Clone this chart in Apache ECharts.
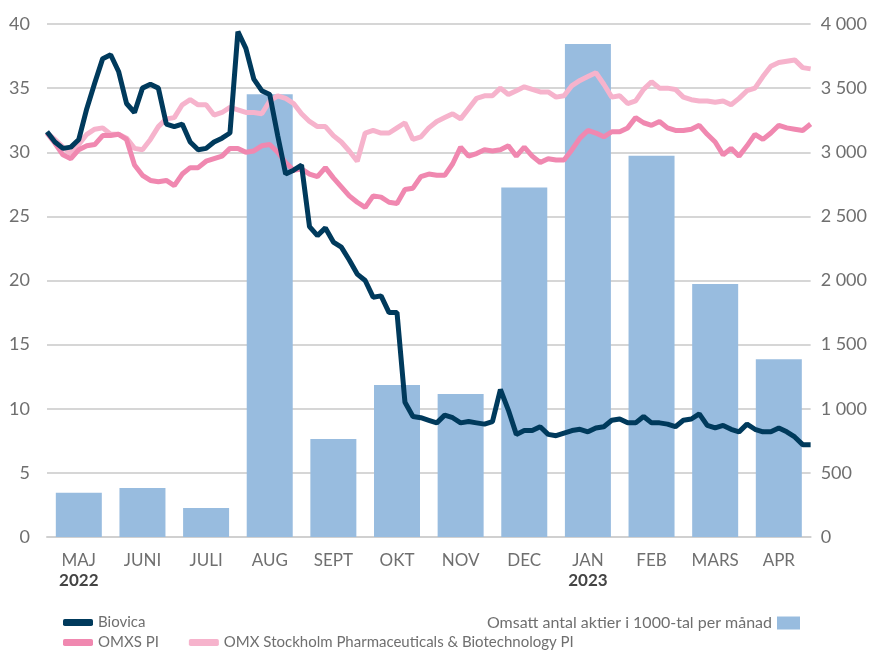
<!DOCTYPE html>
<html>
<head>
<meta charset="utf-8">
<script src="https://cdn.jsdelivr.net/npm/echarts@6/dist/echarts.min.js"></script>
<style>
  html, body { margin: 0; padding: 0; background: #fff; }
  #main { width: 870px; height: 650px; }
</style>
</head>
<body>
<div id="main"></div>
<script>
// månader (staplar) och årtal under MAJ / JAN
const months = ['MAJ', 'JUNI', 'JULI', 'AUG', 'SEPT', 'OKT', 'NOV', 'DEC', 'JAN', 'FEB', 'MARS', 'APR'];
const yearLabels = { 0: '2022', 8: '2023' };

// omsatt antal aktier i 1000-tal per månad (höger axel)
const volume = [345, 382, 226, 3452, 764, 1185, 1115, 2726, 3844, 2973, 1973, 1385];

// kurser, avläst ungefär varannan-var tredje handelsdag (vänster axel)
const biovica = [
  31.6, 30.8, 30.3, 30.4, 31.0, 33.4, 35.4, 37.3, 37.6, 36.3,
  33.8, 33.1, 35.0, 35.3, 35.0, 32.2, 32.0, 32.2, 30.8, 30.2,
  30.3, 30.8, 31.1, 31.5, 39.4, 38.1, 35.7, 34.8, 34.5, 31.3,
  28.3, 28.6, 29.0, 24.2, 23.5, 24.1, 23.0, 22.6, 21.6, 20.5,
  20.0, 18.7, 18.8, 17.5, 17.5, 10.5, 9.4, 9.3, 9.1, 8.9,
  9.5, 9.3, 8.9, 9.0, 8.9, 8.8, 9.0, 11.5, 9.9, 8.0,
  8.3, 8.3, 8.6, 8.0, 7.9, 8.1, 8.3, 8.4, 8.2, 8.5,
  8.6, 9.1, 9.2, 8.9, 8.9, 9.4, 8.9, 8.9, 8.8, 8.6,
  9.1, 9.2, 9.6, 8.7, 8.5, 8.7, 8.4, 8.2, 8.8, 8.4,
  8.2, 8.2, 8.5, 8.2, 7.8, 7.2, 7.2
];
const omxs = [
  31.5, 30.7, 29.8, 29.5, 30.2, 30.5, 30.6, 31.3, 31.3, 31.4,
  31.0, 29.0, 28.2, 27.8, 27.7, 27.8, 27.4, 28.3, 28.8, 28.8,
  29.3, 29.5, 29.7, 30.3, 30.3, 30.0, 30.1, 30.5, 30.6, 30.0,
  29.2, 28.6, 28.7, 28.3, 28.1, 28.8, 28.0, 27.3, 26.6, 26.1,
  25.7, 26.6, 26.5, 26.1, 26.0, 27.1, 27.2, 28.1, 28.3, 28.2,
  28.2, 29.1, 30.4, 29.7, 29.9, 30.2, 30.1, 30.2, 30.5, 29.7,
  30.4, 29.7, 29.2, 29.5, 29.4, 29.4, 30.2, 31.1, 31.7, 31.5,
  31.2, 31.6, 31.6, 31.9, 32.7, 32.3, 32.1, 32.4, 31.9, 31.7,
  31.7, 31.8, 32.1, 31.4, 30.8, 29.8, 30.3, 29.7, 30.5, 31.4,
  31.0, 31.5, 32.1, 31.9, 31.8, 31.7, 32.2
];
const pharma = [
  31.5, 31.0, 30.4, 29.9, 30.6, 31.4, 31.8, 31.9, 31.4, 31.4,
  31.1, 30.3, 30.2, 31.0, 32.0, 32.6, 32.7, 33.7, 34.1, 33.7,
  33.7, 32.9, 33.1, 33.5, 33.3, 33.1, 33.1, 33.0, 34.0, 34.4,
  34.2, 33.8, 33.0, 32.4, 32.0, 32.0, 31.3, 30.8, 30.1, 29.3,
  31.5, 31.7, 31.5, 31.5, 31.9, 32.3, 31.0, 31.2, 31.9, 32.4,
  32.7, 33.0, 32.6, 33.4, 34.2, 34.4, 34.4, 35.0, 34.5, 34.8,
  35.1, 34.9, 34.7, 34.7, 34.3, 34.4, 35.2, 35.6, 35.9, 36.2,
  35.3, 34.3, 34.4, 33.8, 34.0, 34.9, 35.5, 35.0, 35.0, 34.9,
  34.3, 34.1, 34.0, 34.0, 33.9, 34.0, 33.7, 34.2, 34.8, 35.0,
  35.9, 36.7, 37.0, 37.1, 37.2, 36.6, 36.5
];

const fontFamily = 'Lato, "Open Sans", sans-serif';
const txtColor = '#6f6f6f';
const legendText = { fontSize: 15, color: txtColor, fontFamily: fontFamily };

const chart = echarts.init(document.getElementById('main'));

const option = {
  animation: false,
  textStyle: { fontFamily: fontFamily },
  grid: { left: 47, right: 55, top: 24, bottom: 113 },
  legend: [
    {
      left: 58, top: 610, itemWidth: 30, itemHeight: 7,
      textStyle: legendText,
      data: [{ name: 'Biovica', icon: 'roundRect' }]
    },
    {
      left: 58, top: 630, itemWidth: 30, itemHeight: 7, itemGap: 30,
      textStyle: legendText,
      data: [
        { name: 'OMXS PI', icon: 'roundRect' },
        { name: 'OMX Stockholm Pharmaceuticals & Biotechnology PI', icon: 'roundRect' }
      ]
    },
    {
      right: 65, top: 610, itemWidth: 23, itemHeight: 13, align: 'right',
      textStyle: { fontSize: 16, color: txtColor, fontFamily: fontFamily },
      data: [{ name: 'Omsatt antal aktier i 1000-tal per månad', icon: 'rect' }]
    }
  ],
  xAxis: [
    {
      type: 'category',
      data: months,
      axisLine: { lineStyle: { color: '#d0d0d0', width: 2 } },
      axisTick: { show: false },
      axisLabel: {
        interval: 0,
        color: txtColor, fontSize: 17, margin: 14, lineHeight: 20,
        formatter: (v, i) => yearLabels[i] ? v + '\n{y|' + yearLabels[i] + '}' : v,
        rich: { y: { fontWeight: 'bold', color: '#444', fontSize: 17, lineHeight: 20, fontFamily: fontFamily } }
      }
    },
    {
      type: 'category',
      data: biovica.map((_, i) => i),
      boundaryGap: false,
      show: false
    }
  ],
  yAxis: [
    {
      type: 'value', min: 0, max: 40, interval: 5,
      axisLine: { show: false }, axisTick: { show: false },
      axisLabel: { color: txtColor, fontSize: 18, margin: 17 },
      splitLine: { lineStyle: { color: '#d6d6d6', width: 2 } }
    },
    {
      type: 'value', min: 0, max: 4000, interval: 500, position: 'right',
      axisLine: { show: false }, axisTick: { show: false },
      splitLine: { show: false },
      axisLabel: {
        color: txtColor, fontSize: 18, margin: 10,
        formatter: v => String(v).replace(/\B(?=(\d{3})+(?!\d))/g, ' ')
      }
    }
  ],
  series: [
    {
      name: 'Omsatt antal aktier i 1000-tal per månad',
      type: 'bar', xAxisIndex: 0, yAxisIndex: 1,
      data: volume, barWidth: 46,
      itemStyle: { color: '#98bcdf' }
    },
    {
      name: 'OMX Stockholm Pharmaceuticals & Biotechnology PI',
      type: 'line', xAxisIndex: 1, yAxisIndex: 0, data: pharma,
      showSymbol: false, lineStyle: { color: '#f6b3cc', width: 5 },
      itemStyle: { color: '#f6b3cc' }
    },
    {
      name: 'OMXS PI',
      type: 'line', xAxisIndex: 1, yAxisIndex: 0, data: omxs,
      showSymbol: false, lineStyle: { color: '#f088b0', width: 5 },
      itemStyle: { color: '#f088b0' }
    },
    {
      name: 'Biovica',
      type: 'line', xAxisIndex: 1, yAxisIndex: 0, data: biovica,
      showSymbol: false, lineStyle: { color: '#003a5c', width: 5 },
      itemStyle: { color: '#003a5c' }
    }
  ]
};

chart.setOption(option);
</script>
</body>
</html>
